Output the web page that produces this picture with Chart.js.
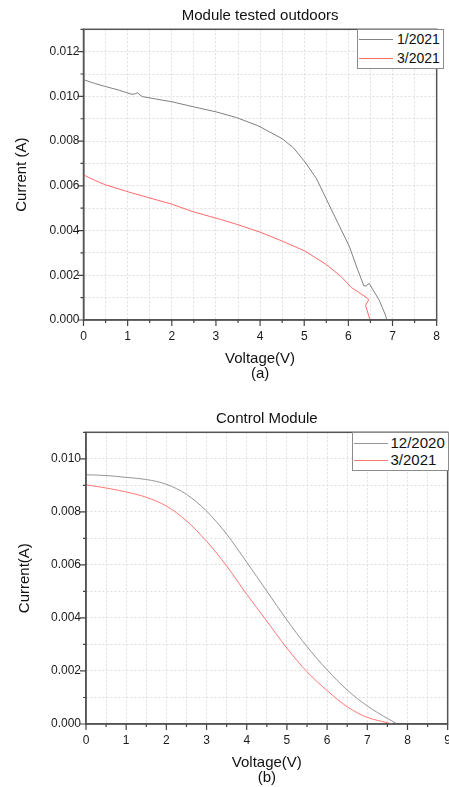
<!DOCTYPE html>
<html>
<head>
<meta charset="utf-8">
<script src="https://cdn.jsdelivr.net/npm/chart.js@4.4.1/dist/chart.umd.min.js"></script>
<style>
  html, body { margin: 0; padding: 0; background: #fff; overflow: hidden; }
  body { width: 449px; height: 787px; position: relative; font-family: "Liberation Sans", Arial, sans-serif; }
  canvas { position: absolute; left: 0; }
  .legend { position: absolute; background: #fff; border: 1px solid #8c8c8c; box-sizing: border-box; }
  .legend .row { position: absolute; left: 0; right: 0; height: 18px; }
  .legend .swatch { position: absolute; top: 9px; height: 0; border-top: 1px solid; }
  .legend .label { position: absolute; top: 0; color: #111; white-space: nowrap; line-height: 18px; }
</style>
</head>
<body>
<canvas id="chartA" width="449" height="390" style="top:0"></canvas>
<canvas id="chartB" width="460" height="397" style="top:390px"></canvas>
<div id="legendA" class="legend"></div>
<div id="legendB" class="legend"></div>
<script>
// panel (a) - module tested outdoors
const voltJan21 = [0, 0.25, 0.5, 0.8, 1.1, 1.18, 1.22, 1.33, 2.0, 2.5, 3.0, 3.47, 3.95, 4.5, 4.76, 5.02, 5.28, 5.5, 5.76, 6.02, 6.21, 6.35, 6.40, 6.47, 6.70, 6.84, 6.87];
const currJan21 = [0.01075, 0.01058, 0.01044, 0.01028, 0.01009, 0.01012, 0.01016, 0.00999, 0.00976, 0.00953, 0.00931, 0.00905, 0.00869, 0.00811, 0.00769, 0.00706, 0.00631, 0.00541, 0.00435, 0.00330, 0.00225, 0.00153, 0.00152, 0.00164, 0.00088, 0.00022, 0.0];
const voltMar21a = [0, 0.25, 0.5, 1.1, 2.0, 2.5, 3.1, 3.47, 4.0, 4.5, 5.02, 5.5, 5.83, 6.07, 6.43, 6.46, 6.39, 6.49];
const currMar21a = [0.00649, 0.00625, 0.00604, 0.00568, 0.00518, 0.00483, 0.00450, 0.00428, 0.00393, 0.00353, 0.00308, 0.00248, 0.00195, 0.00145, 0.00098, 0.00090, 0.00065, 0.0];

// panel (b) - control module
const voltDec20 = [0, 0.5, 1.0, 1.5, 2.0, 2.5, 3.0, 3.5, 4.0, 4.5, 5.0, 5.5, 6.0, 6.5, 7.0, 7.5, 7.75];
const currDec20 = [0.00940, 0.00937, 0.00930, 0.00922, 0.00904, 0.00866, 0.00803, 0.00716, 0.00610, 0.00501, 0.00392, 0.00292, 0.00204, 0.00128, 0.00068, 0.00021, 0.0];
const voltMar21b = [0, 0.5, 1.0, 1.5, 2.0, 2.5, 3.0, 3.5, 4.0, 4.5, 5.0, 5.5, 6.0, 6.5, 7.0, 7.5, 7.62];
const currMar21b = [0.00902, 0.00890, 0.00875, 0.00855, 0.00822, 0.00766, 0.00689, 0.00596, 0.00489, 0.00388, 0.00286, 0.00197, 0.00126, 0.00065, 0.00025, 0.00005, 0.0];

const seriesA = ['1/2021', '3/2021'];
const seriesB = ['12/2020', '3/2021'];
const titleA = 'Module tested outdoors';
const titleB = 'Control Module';
const yTitleA = 'Current (A)';
const yTitleB = 'Current(A)';
const xTitle = 'Voltage(V)';
const tagA = '(a)';
const tagB = '(b)';
const xMaxA = 8, yMaxA = 0.013;
const xMaxB = 9, yMaxB = 0.011;

const grayA = '#808080', redA = '#ff6a6a';
const grayB = '#959595', redB = '#ff7878';

Chart.defaults.font.family = '"Liberation Sans", Arial, sans-serif';
Chart.defaults.color = '#1a1a1a';

const pts = (xs, ys) => xs.map((v, i) => ({x: v, y: ys[i]}));

// box round the plot, like Origin
const frame = {
  id: 'frame',
  afterDatasetsDraw(chart) {
    const a = chart.chartArea, ctx = chart.ctx;
    ctx.save();
    ctx.strokeStyle = '#555';
    ctx.lineWidth = 1.5;
    ctx.strokeRect(a.left, a.top, a.right - a.left, a.bottom - a.top);
    ctx.restore();
  }
};

// long ticks on labelled values, short ones between
const originTicks = {
  id: 'originTicks',
  afterDraw(chart) {
    const ctx = chart.ctx;
    const {x, y} = chart.scales;
    const a = chart.chartArea;
    ctx.save();
    ctx.strokeStyle = '#444';
    ctx.lineWidth = 1.2;
    ctx.beginPath();
    x.ticks.forEach(t => {
      const px = x.getPixelForValue(t.value);
      const len = t.label !== '' ? 6 : 3;
      ctx.moveTo(px, a.bottom); ctx.lineTo(px, a.bottom + len);
    });
    y.ticks.forEach(t => {
      const py = y.getPixelForValue(t.value);
      const len = t.label !== '' ? 6 : 3;
      ctx.moveTo(a.left, py); ctx.lineTo(a.left - len, py);
    });
    ctx.stroke();
    ctx.restore();
  }
};

function makeChart(id, o) {
  return new Chart(document.getElementById(id), {
    type: 'scatter',
    data: {
      datasets: o.sets.map(s => ({
        label: s.label,
        data: s.data,
        showLine: true,
        borderColor: s.color,
        borderWidth: 1,
        pointRadius: 0,
        fill: false,
        cubicInterpolationMode: o.smooth ? 'monotone' : 'default'
      }))
    },
    options: {
      responsive: false,
      animation: false,
      layout: { padding: { left: 0, right: o.padRight, top: 0, bottom: 0 } },
      plugins: {
        legend: { display: false },
        tooltip: { enabled: false },
        title: {
          display: true,
          text: o.title,
          fullSize: false,
          color: '#111',
          font: { size: 15, weight: 'normal', lineHeight: 1.2 },
          padding: { top: o.titleTop, bottom: o.titleBottom }
        }
      },
      scales: {
        x: {
          type: 'linear',
          min: 0,
          max: o.xMax,
          afterFit: s => { s.height = o.xAxisH; },
          ticks: {
            stepSize: 0.5,
            autoSkip: false,
            maxRotation: 0,
            padding: 9,
            font: { size: 12 },
            callback: v => Number.isInteger(v) ? String(v) : ''
          },
          grid: { color: '#dedede', drawTicks: false },
          border: { color: '#555', width: 1.5, dash: [2, 2] },
          title: {
            display: true,
            text: [xTitle, o.tag],
            color: '#111',
            font: { size: 15, lineHeight: 1.05 },
            padding: { top: 0, bottom: o.xTitleBottom }
          }
        },
        y: {
          min: 0,
          max: o.yMax,
          afterFit: s => { s.width = o.yAxisW; },
          ticks: {
            stepSize: 0.001,
            autoSkip: false,
            padding: o.yTickPad,
            font: { size: 12 },
            callback: v => {
              const k = Math.round(v * 1000);
              return k % 2 === 0 ? (k / 1000).toFixed(3) : '';
            }
          },
          grid: { color: '#dedede', drawTicks: false },
          border: { color: '#555', width: 1.5, dash: [2, 2] },
          title: {
            display: true,
            text: o.yTitle,
            color: '#111',
            font: { size: 15, lineHeight: 1.2 },
            padding: { top: o.yTitleTop, bottom: 0 }
          }
        }
      }
    },
    plugins: [frame, originTicks]
  });
}

makeChart('chartA', {
  title: titleA, yTitle: yTitleA, tag: tagA, xMax: xMaxA, yMax: yMaxA,
  sets: [
    { label: seriesA[0], data: pts(voltJan21, currJan21), color: grayA },
    { label: seriesA[1], data: pts(voltMar21a, currMar21a), color: redA }
  ],
  smooth: false,
  padRight: 5, titleTop: 7.2, titleBottom: 4.1,
  xAxisH: 70, xTitleBottom: 7.9,
  yAxisW: 83.5, yTickPad: 4, yTitleTop: 12.7
});

makeChart('chartB', {
  title: titleB, yTitle: yTitleB, tag: tagB, xMax: xMaxB, yMax: yMaxB,
  sets: [
    { label: seriesB[0], data: pts(voltDec20, currDec20), color: grayB },
    { label: seriesB[1], data: pts(voltMar21b, currMar21b), color: redB }
  ],
  smooth: true,
  padRight: 12.3, titleTop: 20.2, titleBottom: 4.1,
  xAxisH: 63, xTitleBottom: 0.9,
  yAxisW: 86, yTickPad: 5, yTitleTop: 16
});

// Origin style legend boxes sitting in the top right corner of each plot
function buildLegend(id, box, names, colors) {
  const el = document.getElementById(id);
  Object.assign(el.style, {
    left: box.left + 'px', top: box.top + 'px',
    width: box.width + 'px', height: box.height + 'px',
    fontSize: box.fontSize + 'px'
  });
  names.forEach((name, i) => {
    const row = document.createElement('div');
    row.className = 'row';
    row.style.top = box.rowTops[i] + 'px';
    const sw = document.createElement('div');
    sw.className = 'swatch';
    sw.style.left = box.swLeft + 'px';
    sw.style.width = box.swWidth + 'px';
    sw.style.borderTopColor = colors[i];
    const lab = document.createElement('div');
    lab.className = 'label';
    lab.style.left = box.textLeft + 'px';
    lab.textContent = name;
    row.appendChild(sw);
    row.appendChild(lab);
    el.appendChild(row);
  });
}

buildLegend('legendA',
  { left: 357, top: 29, width: 87, height: 40, fontSize: 14, rowTops: [-0.3, 19], swLeft: 1, swWidth: 34, textLeft: 39 },
  seriesA, [grayA, redA]);
buildLegend('legendB',
  { left: 351.5, top: 432, width: 97, height: 39, fontSize: 15, rowTops: [0.7, 18.3], swLeft: 1.5, swWidth: 34, textLeft: 38 },
  seriesB, [grayB, redB]);
</script>
</body>
</html>
